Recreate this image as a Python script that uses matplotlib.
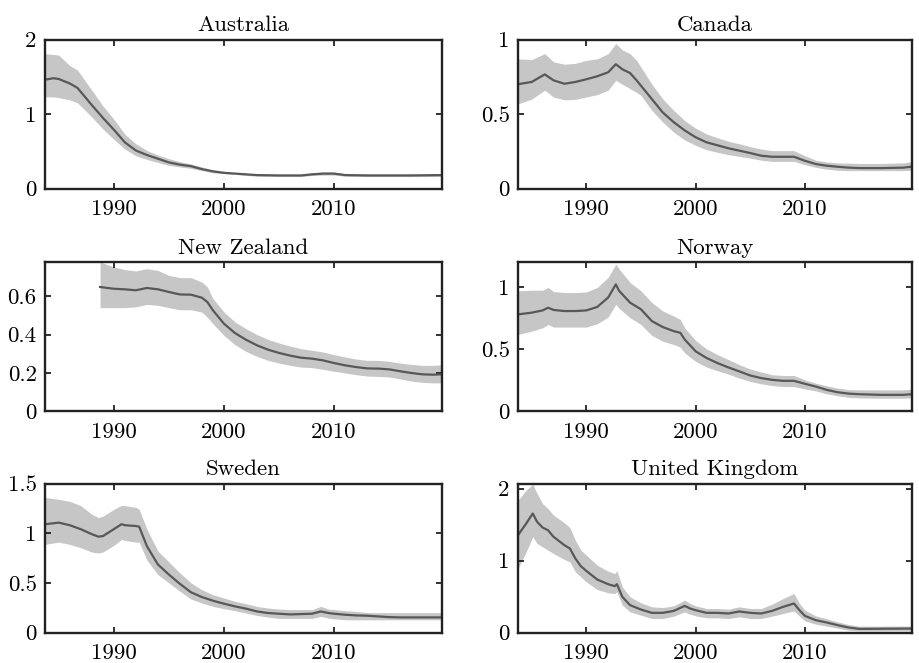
import numpy as np
import matplotlib
matplotlib.use("Agg")
import matplotlib.pyplot as plt

plt.rcParams["font.family"] = "serif"
plt.rcParams["font.serif"] = ["cmr10", "DejaVu Serif"]
plt.rcParams["axes.formatter.use_mathtext"] = True

# --- data (mean, lower band, upper band) ---
aus_x = [1983.75, 1984.5, 1985, 1986, 1986.7, 1988, 1989, 1990, 1991, 1992, 1993, 1994, 1995,
         1996, 1997, 1998, 1999, 2000, 2001, 2002, 2003, 2005, 2007, 2008, 2009, 2010, 2011,
         2013, 2015, 2017, 2019.75]
aus_m = [1.46, 1.48, 1.47, 1.41, 1.35, 1.12, 0.95, 0.79, 0.62, 0.51, 0.45, 0.40, 0.35,
         0.32, 0.30, 0.26, 0.23, 0.21, 0.20, 0.19, 0.18, 0.175, 0.175, 0.19, 0.20, 0.20, 0.18,
         0.175, 0.175, 0.175, 0.18]
aus_lo = [1.23, 1.23, 1.22, 1.19, 1.15, 0.96, 0.80, 0.66, 0.53, 0.44, 0.39, 0.35, 0.31,
          0.29, 0.27, 0.24, 0.21, 0.20, 0.19, 0.175, 0.165, 0.16, 0.16, 0.175, 0.18, 0.18, 0.165,
          0.16, 0.16, 0.16, 0.16]
aus_hi = [1.81, 1.80, 1.79, 1.65, 1.59, 1.32, 1.11, 0.93, 0.73, 0.60, 0.51, 0.45, 0.40,
          0.36, 0.33, 0.29, 0.25, 0.23, 0.21, 0.20, 0.195, 0.19, 0.19, 0.21, 0.22, 0.22, 0.20,
          0.195, 0.195, 0.195, 0.20]

can_x = [1983.75, 1985, 1986.2, 1987, 1988, 1989, 1990, 1991, 1992, 1992.7, 1993.3, 1994, 1994.6,
         1995, 1996, 1997, 1998, 1999, 2000, 2001, 2002, 2003, 2004, 2005, 2006, 2007, 2008,
         2009, 2010, 2011, 2012, 2013, 2014, 2015, 2017, 2019, 2019.75]
can_m = [0.70, 0.715, 0.766, 0.726, 0.703, 0.715, 0.733, 0.753, 0.78, 0.834, 0.80, 0.775, 0.726,
         0.69, 0.60, 0.51, 0.445, 0.39, 0.344, 0.31, 0.29, 0.27, 0.254, 0.238, 0.22, 0.213, 0.213,
         0.213, 0.186, 0.164, 0.153, 0.146, 0.14, 0.137, 0.137, 0.14, 0.146]
can_lo = [0.568, 0.60, 0.66, 0.614, 0.595, 0.598, 0.614, 0.63, 0.66, 0.726, 0.70, 0.67, 0.645,
          0.625, 0.524, 0.445, 0.378, 0.326, 0.29, 0.26, 0.243, 0.227, 0.216, 0.204, 0.19, 0.182, 0.182,
          0.182, 0.16, 0.142, 0.13, 0.122, 0.12, 0.12, 0.12, 0.12, 0.122]
can_hi = [0.87, 0.865, 0.905, 0.85, 0.834, 0.84, 0.86, 0.87, 0.905, 0.973, 0.93, 0.905, 0.86,
          0.815, 0.70, 0.60, 0.524, 0.456, 0.405, 0.366, 0.34, 0.317, 0.30, 0.281, 0.265, 0.254, 0.254,
          0.254, 0.22, 0.19, 0.178, 0.172, 0.17, 0.168, 0.168, 0.172, 0.18]

nz_x = [1988.75, 1990, 1991, 1992, 1993, 1994, 1995, 1996, 1997, 1998, 1998.5, 1999, 2000,
        2001, 2002, 2003, 2004, 2005, 2006, 2007, 2008, 2009, 2010, 2011, 2012, 2013, 2014,
        2015, 2016, 2017, 2018, 2019, 2019.75]
nz_m = [0.649, 0.64, 0.637, 0.632, 0.644, 0.637, 0.623, 0.61, 0.609, 0.593, 0.57, 0.527, 0.457,
        0.408, 0.373, 0.344, 0.321, 0.304, 0.29, 0.279, 0.274, 0.265, 0.251, 0.239, 0.23, 0.223, 0.222,
        0.218, 0.208, 0.199, 0.192, 0.19, 0.192]
nz_lo = [0.541, 0.541, 0.541, 0.545, 0.558, 0.553, 0.541, 0.53, 0.53, 0.518, 0.49, 0.457, 0.396,
         0.347, 0.312, 0.286, 0.265, 0.251, 0.239, 0.23, 0.227, 0.218, 0.208, 0.199, 0.19, 0.183, 0.181,
         0.178, 0.168, 0.157, 0.15, 0.147, 0.147]
nz_hi = [0.78, 0.754, 0.74, 0.733, 0.745, 0.736, 0.71, 0.698, 0.698, 0.675, 0.649, 0.588, 0.518,
         0.466, 0.431, 0.40, 0.375, 0.356, 0.34, 0.326, 0.318, 0.309, 0.295, 0.283, 0.272, 0.265, 0.265,
         0.26, 0.251, 0.244, 0.239, 0.239, 0.242]

nor_x = [1983.75, 1985, 1986, 1986.5, 1987, 1988, 1989, 1990, 1991, 1992, 1992.7, 1993, 1994,
         1995, 1996, 1997, 1998, 1998.6, 1999, 2000, 2001, 2002, 2003, 2004, 2005, 2006, 2007,
         2008, 2009, 2010, 2011, 2012, 2013, 2014, 2015, 2017, 2019, 2019.75]
nor_m = [0.778, 0.792, 0.81, 0.832, 0.814, 0.805, 0.805, 0.81, 0.838, 0.914, 1.02, 0.968, 0.873,
         0.819, 0.724, 0.676, 0.643, 0.63, 0.576, 0.481, 0.427, 0.386, 0.351, 0.319, 0.286, 0.265, 0.251,
         0.243, 0.243, 0.219, 0.197, 0.17, 0.151, 0.14, 0.135, 0.13, 0.13, 0.135]
nor_lo = [0.616, 0.643, 0.67, 0.697, 0.676, 0.676, 0.676, 0.676, 0.703, 0.757, 0.859, 0.827, 0.751,
          0.697, 0.608, 0.562, 0.535, 0.514, 0.468, 0.40, 0.354, 0.324, 0.297, 0.265, 0.238, 0.219, 0.205,
          0.197, 0.197, 0.178, 0.162, 0.138, 0.122, 0.11, 0.105, 0.103, 0.103, 0.105]
nor_hi = [0.968, 0.973, 0.973, 0.995, 0.962, 0.954, 0.954, 0.959, 0.995, 1.076, 1.184, 1.143, 1.035,
          0.968, 0.873, 0.805, 0.765, 0.738, 0.67, 0.568, 0.50, 0.454, 0.414, 0.373, 0.338, 0.314, 0.292,
          0.286, 0.286, 0.251, 0.224, 0.203, 0.184, 0.172, 0.17, 0.17, 0.17, 0.175]

swe_x = [1983.75, 1985, 1986, 1987, 1988, 1988.6, 1989, 1990, 1990.7, 1991, 1992, 1992.3, 1993,
         1994, 1995, 1996, 1997, 1998, 1999, 2000, 2001, 2002, 2003, 2004, 2005, 2006, 2008,
         2008.8, 2009.5, 2010, 2011, 2012, 2013, 2014, 2015, 2016, 2019.75]
swe_m = [1.09, 1.106, 1.08, 1.04, 0.99, 0.965, 0.97, 1.04, 1.09, 1.08, 1.072, 1.066, 0.87,
         0.685, 0.583, 0.49, 0.405, 0.357, 0.32, 0.29, 0.263, 0.24, 0.212, 0.196, 0.189, 0.182, 0.189,
         0.212, 0.196, 0.189, 0.179, 0.172, 0.169, 0.162, 0.155, 0.152, 0.152]
swe_lo = [0.887, 0.91, 0.887, 0.853, 0.81, 0.80, 0.81, 0.877, 0.937, 0.927, 0.91, 0.91, 0.73,
          0.583, 0.50, 0.415, 0.337, 0.297, 0.263, 0.24, 0.22, 0.196, 0.172, 0.155, 0.142, 0.142, 0.142,
          0.162, 0.145, 0.138, 0.128, 0.128, 0.128, 0.128, 0.128, 0.128, 0.128]
swe_hi = [1.36, 1.34, 1.32, 1.277, 1.19, 1.157, 1.17, 1.24, 1.28, 1.277, 1.26, 1.24, 1.04,
          0.82, 0.71, 0.60, 0.50, 0.43, 0.38, 0.347, 0.314, 0.29, 0.263, 0.246, 0.236, 0.23, 0.23,
          0.263, 0.236, 0.23, 0.22, 0.212, 0.20, 0.20, 0.20, 0.20, 0.20]

uk_x = [1983.75, 1984.5, 1985.1, 1985.5, 1986, 1986.5, 1987, 1988, 1988.5, 1989, 1989.5, 1990,
        1991, 1992, 1992.6, 1992.8, 1993.3, 1994, 1995, 1996, 1997, 1998, 1999, 1999.5, 2000,
        2001, 2002, 2003, 2004, 2005, 2006, 2007, 2008, 2009, 2009.5, 2010, 2011, 2012, 2013,
        2014, 2015, 2019.75]
uk_m = [1.352, 1.514, 1.653, 1.537, 1.458, 1.421, 1.329, 1.213, 1.167, 1.028, 0.921, 0.856,
        0.736, 0.671, 0.644, 0.671, 0.495, 0.38, 0.319, 0.273, 0.273, 0.30, 0.37, 0.333, 0.31,
        0.273, 0.273, 0.264, 0.292, 0.273, 0.264, 0.30, 0.356, 0.403, 0.31, 0.231, 0.171, 0.139, 0.102,
        0.069, 0.05, 0.055]
uk_lo = [0.889, 1.12, 1.33, 1.236, 1.19, 1.143, 1.097, 1.014, 0.981, 0.843, 0.773, 0.704,
         0.597, 0.551, 0.542, 0.565, 0.38, 0.287, 0.241, 0.194, 0.194, 0.227, 0.287, 0.255, 0.231,
         0.204, 0.204, 0.194, 0.218, 0.194, 0.194, 0.227, 0.264, 0.30, 0.227, 0.162, 0.116, 0.088, 0.06,
         0.032, 0.023, 0.023]
uk_hi = [1.838, 1.977, 2.06, 1.93, 1.79, 1.72, 1.63, 1.523, 1.458, 1.282, 1.143, 1.074,
         0.935, 0.851, 0.819, 0.856, 0.634, 0.495, 0.412, 0.356, 0.347, 0.37, 0.449, 0.403, 0.37,
         0.333, 0.333, 0.324, 0.356, 0.333, 0.333, 0.394, 0.472, 0.542, 0.403, 0.31, 0.231, 0.19, 0.148,
         0.111, 0.088, 0.09]

panels = [
    ("Australia", aus_x, aus_m, aus_lo, aus_hi, 2.0, [0, 1, 2]),
    ("Canada", can_x, can_m, can_lo, can_hi, 1.0, [0, 0.5, 1]),
    ("New Zealand", nz_x, nz_m, nz_lo, nz_hi, 0.78, [0, 0.2, 0.4, 0.6]),
    ("Norway", nor_x, nor_m, nor_lo, nor_hi, 1.2, [0, 0.5, 1]),
    ("Sweden", swe_x, swe_m, swe_lo, swe_hi, 1.5, [0, 0.5, 1, 1.5]),
    ("United Kingdom", uk_x, uk_m, uk_lo, uk_hi, 2.07, [0, 1, 2]),
]

W, H = 919, 663
fig = plt.figure(figsize=(W / 100, H / 100), dpi=100)

col_left = [45, 518]
col_width = [397, 394]
row_top = [39.5, 262, 483.5]
ax_h = 149

for i, (name, x, m, lo, hi, ytop, yt) in enumerate(panels):
    r, c = divmod(i, 2)
    ax = fig.add_axes([col_left[c] / W, 1 - (row_top[r] + ax_h) / H,
                       col_width[c] / W, ax_h / H])
    ax.fill_between(x, lo, hi, color="#c6c6c6", linewidth=0)
    ax.plot(x, m, color="#585858", linewidth=1.6)
    ax.set_xlim(1983.75, 2019.8)
    ax.set_ylim(0, ytop)
    ax.set_xticks([1990, 2000, 2010])
    ax.set_xticklabels(["1990", "2000", "2010"])
    ax.set_yticks(yt)
    ax.set_yticklabels(["%g" % v for v in yt])
    ax.tick_params(direction="in", top=True, right=True, length=4, width=1.3,
                   labelsize=16.5, color="#222222")
    ax.tick_params(axis="x", pad=8)
    ax.tick_params(axis="y", pad=6)
    for s in ax.spines.values():
        s.set_linewidth(1.7)
        s.set_color("#222222")
    ax.set_title(name, fontsize=16.5, pad=6)

fig.savefig("out.png", dpi=100)
